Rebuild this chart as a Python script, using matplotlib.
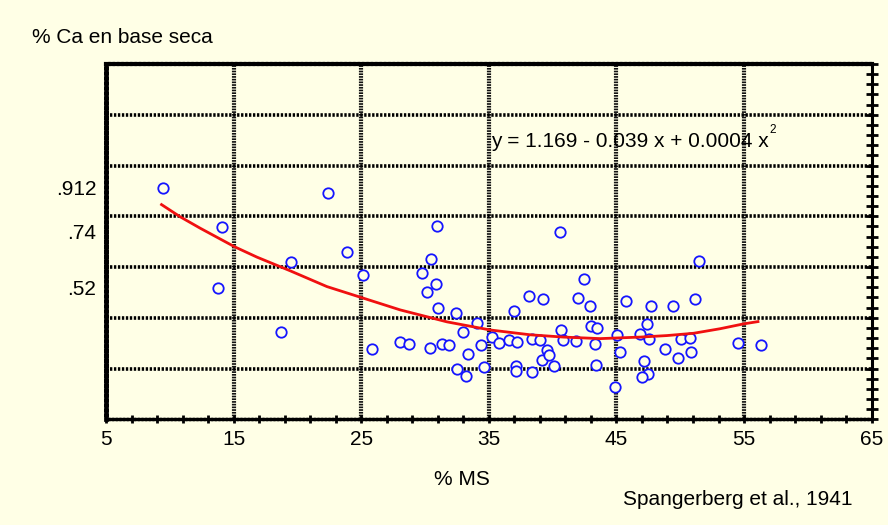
import numpy as np
import matplotlib
matplotlib.use('Agg')
import matplotlib.pyplot as plt
from matplotlib.ticker import FixedLocator

plt.rcParams['font.family'] = ['Liberation Sans', 'DejaVu Sans']

# % MS (x) vs % Ca en base seca (y)
ms = [9.43, 22.36, 14.11, 13.75, 19.51, 23.89, 25.16, 18.71, 25.81, 28.02,
      28.78, 29.80, 30.12, 30.47, 30.92, 30.88, 30.98, 30.42, 31.29, 31.91,
      32.39, 32.50, 33.01, 33.23, 33.39, 34.05, 34.36, 34.62, 35.24, 35.80,
      36.60, 37.19, 37.01, 37.16, 37.11, 38.17, 38.36, 38.40, 39.03, 39.18,
      39.27, 39.54, 39.73, 40.10, 40.57, 40.62, 40.85, 41.85, 41.98, 42.48,
      42.93, 43.03, 43.47, 43.28, 43.42, 44.89, 45.04, 45.30, 45.74, 46.86,
      47.14, 47.36, 47.44, 46.98, 47.59, 47.73, 48.79, 49.40, 49.82, 50.02,
      50.76, 50.84, 51.12, 51.43, 54.49, 56.33]
ca = [0.910, 0.892, 0.758, 0.518, 0.621, 0.658, 0.568, 0.344, 0.276, 0.304,
      0.297, 0.576, 0.500, 0.631, 0.763, 0.532, 0.438, 0.282, 0.297, 0.293,
      0.420, 0.197, 0.344, 0.170, 0.257, 0.380, 0.291, 0.207, 0.325, 0.299,
      0.311, 0.306, 0.425, 0.212, 0.191, 0.485, 0.318, 0.186, 0.313, 0.233,
      0.474, 0.272, 0.252, 0.212, 0.739, 0.351, 0.313, 0.307, 0.477, 0.554,
      0.447, 0.367, 0.361, 0.297, 0.215, 0.129, 0.333, 0.266, 0.468, 0.336,
      0.228, 0.377, 0.180, 0.167, 0.316, 0.448, 0.279, 0.448, 0.243, 0.315,
      0.322, 0.265, 0.476, 0.624, 0.302, 0.292]

# fitted curve as drawn on the plot
fit_ms = [9.35, 10.81, 12.38, 15.07, 16.83, 19.44, 22.31, 25.00, 28.06, 31.72,
          35.11, 38.25, 40.85, 43.73, 46.87, 48.96, 51.04, 53.13, 54.96, 56.09]
fit_ca = [0.846, 0.798, 0.753, 0.680, 0.639, 0.585, 0.523, 0.480, 0.431, 0.384,
          0.352, 0.333, 0.324, 0.318, 0.324, 0.330, 0.339, 0.357, 0.376, 0.385]

xticks = [5, 15, 25, 35, 45, 55, 65]
yticks = [0.912, 0.74, 0.52]
ytick_labels = ['.912', '.74', '.52']
xgrid = [15, 25, 35, 45, 55]
ygrid = [0.2, 0.4, 0.6, 0.8, 1.0, 1.2]

bg = '#FFFFE6'

fig = plt.figure(figsize=(8.88, 5.25), dpi=100, facecolor=bg)
ax = fig.add_axes([0.1194, 0.2013, 0.8622, 0.6768])
ax.set_facecolor(bg)
ax.set_xlim(5, 65)
ax.set_ylim(0, 1.4)

# grid: dense hatched verticals, dotted horizontals
for g in xgrid:
    ax.axvline(g, color='#111111', lw=3.0, linestyle=(0, (0.4, 0.25)), zorder=1)
for g in ygrid:
    ax.axhline(g, color='k', lw=2.6, linestyle=(0, (0.65, 0.45)), zorder=1)

ax.plot(ms, ca, 'o', ms=7.5, mfc=bg, mec='#1515ff', mew=1.3, zorder=3)
ax.plot(fit_ms, fit_ca, '-', color='#f01010', lw=2.0, zorder=4)

# frame
ax.spines['top'].set_linestyle((0, (0.6, 0.45)))
ax.spines['top'].set_linewidth(3.0)
ax.spines['left'].set_linestyle((0, (0.6, 0.45)))
ax.spines['left'].set_linewidth(3.4)
ax.spines['bottom'].set_linestyle((0, (0.7, 0.4)))
ax.spines['bottom'].set_linewidth(2.4)
ax.spines['right'].set_linewidth(2.2)

ax.xaxis.set_major_locator(FixedLocator(xticks))
ax.xaxis.set_minor_locator(FixedLocator([5 + 2 * i for i in range(31)]))
ax.tick_params(axis='x', which='both', direction='inout', length=6, width=2,
               labelsize=15, pad=5)

ax.yaxis.remove_overlapping_locs = False
ax.yaxis.set_major_locator(FixedLocator(yticks))
ax.set_yticklabels(ytick_labels)
ax.yaxis.set_minor_locator(FixedLocator([0.04 * i for i in range(36)]))
ax.tick_params(axis='y', which='major', length=0, labelsize=15, pad=7)
ax.tick_params(axis='y', which='minor', left=False, right=True,
               direction='inout', length=8, width=2)

ax.text(35.16, 1.074, 'y = 1.169 - 0.039 x + 0.0004 x', fontsize=15,
        va='baseline', zorder=5)
ax.text(57.0, 1.165, '2', fontsize=8.5, va='top', zorder=5)

fig.text(32 / 888, 1 - 43 / 525, '% Ca en base seca', fontsize=15, va='baseline')
fig.text(462 / 888, 1 - 485 / 525, '% MS', fontsize=15, ha='center', va='baseline')
fig.text(623 / 888, 1 - 505 / 525, 'Spangerberg et al., 1941', fontsize=15,
         va='baseline')

fig.savefig('out.png', dpi=100, facecolor=bg)
